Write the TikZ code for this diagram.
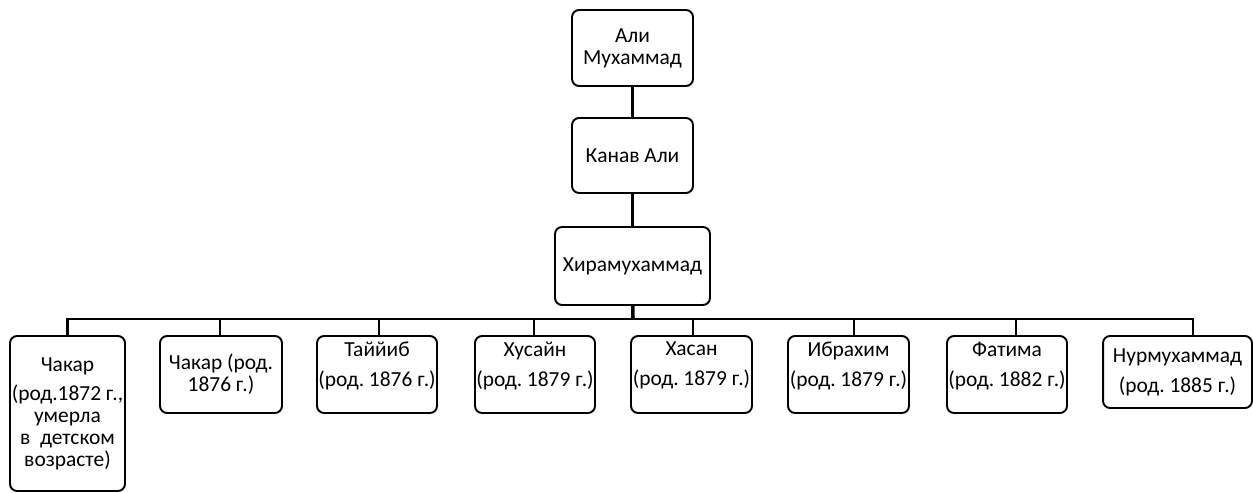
\documentclass[tikz,border=0pt]{standalone}
\usepackage{fontspec}
\setmainfont{Carlito}
\frenchspacing
\usepackage{tikz}
\usetikzlibrary{calc}

\begin{document}
\begin{tikzpicture}[x=0.02cm, y=-0.02cm,
  box/.style={draw, line width=1.1pt, rounded corners=4pt, align=center, inner sep=0pt,
    font=\fontsize{12.2}{12.5}\selectfont},
  kid/.style={box, minimum height=1.54cm},
  link/.style={line width=1.4pt},
  trunk/.style={line width=2pt}]
\useasboundingbox (0,0) rectangle (1253,493);
\node[box, minimum width=2.42cm, minimum height=1.52cm] (ali) at (632.5,48) {Али\\Мухаммад};
\node[box, minimum width=2.42cm, minimum height=1.50cm] (kanav) at (632.5,155.5) {Канав Али};
\node[box, minimum width=3.10cm, minimum height=1.56cm] (hira) at (632.5,266) {Хирамухаммад};
\coordinate (bus) at (633,319);
\draw[trunk] (ali) -- (kanav);
\draw[trunk] (kanav) -- (hira);
\draw[trunk] (hira) -- (bus);

\node[box, minimum width=2.30cm, minimum height=3.10cm] (chakar1) at (67.5,413.5)
  {Чакар\\[4pt](род.1872 г.,\\умерла\\в \ детском\\возрасте)};
\node[kid, minimum width=2.44cm] (chakar2) at (221,374.5) {Чакар (род.\\1876 г.)};
\node[kid, minimum width=2.40cm, text depth=12pt] (tayyib) at (377,374.5) {Таййиб\\[4.5pt](род. 1876 г.)};
\node[kid, minimum width=2.40cm, text depth=12pt] (husain) at (535,374.5) {Хусайн\\[4.5pt](род. 1879 г.)};
\node[kid, minimum width=2.42cm, text depth=12pt] (hasan) at (691.5,374.5) {Хасан\\[4.5pt](род. 1879 г.)};
\node[kid, minimum width=2.42cm, text depth=12pt] (ibrahim) at (848.5,374.5) {Ибрахим\\[4.5pt](род. 1879 г.)};
\node[kid, minimum width=2.40cm, text depth=12pt] (fatima) at (1007,374.5) {Фатима\\[4.5pt](род. 1882 г.)};
\node[box, minimum width=2.98cm, minimum height=1.44cm] (nur) at (1177.5,372) {Нурмухаммад\\[4.5pt](род. 1885 г.)};

\draw[link] (chakar1.north) |- (bus);
\draw[link] ([xshift=-0.02cm]chakar2.north) |- (bus);
\draw[link] ([xshift=0.04cm]tayyib.north) |- (bus);
\draw[link] ([xshift=-0.02cm]husain.north) |- (bus);
\draw[link] ([xshift=0.03cm]hasan.north) |- (bus);
\draw[link] ([xshift=0.11cm]ibrahim.north) |- (bus);
\draw[link] ([xshift=0.18cm]fatima.north) |- (bus);
\draw[link] ([xshift=0.31cm]nur.north) |- (bus);
\end{tikzpicture}
\end{document}
